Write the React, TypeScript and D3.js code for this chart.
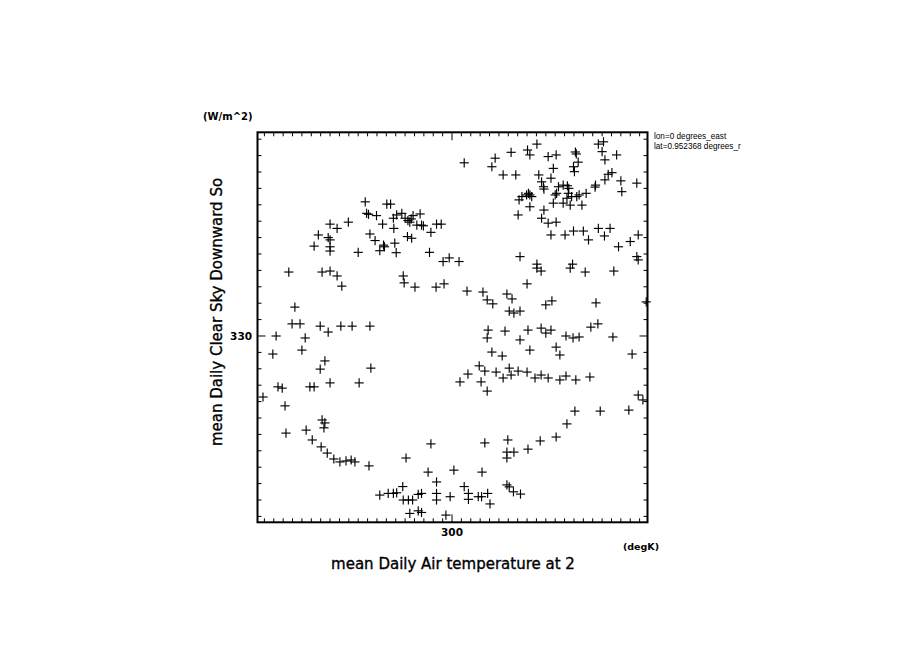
import React from "react";
import * as d3 from "d3";

// mean Daily Air temperature at 2m (degK)
const airTemp = [
  // upper right group
  300.26, 300.92, 300.85, 301.26, 301.61, 301.66, 301.81, 302.05, 302.22, 302.63, 302.65, 302.69, 302.59, 302.61,
  303.12, 303.23, 303.20, 303.26, 303.51, 301.09, 301.36, 301.85, 302.16, 302.11, 301.91, 301.95, 301.96, 302.27,
  302.37, 302.46, 302.49, 302.23, 302.20, 303.33, 303.41, 303.26, 303.06, 303.05, 303.60, 303.62, 303.94, 301.63,
  301.59, 301.66, 301.49, 301.43, 301.70, 302.48, 302.45, 302.55, 302.66, 302.71, 302.86, 302.16, 302.37, 302.52,
  302.77, 301.66, 301.96, 301.41, 301.91, 302.05, 302.22, 302.11, 302.41, 302.59, 302.80, 302.91, 303.12, 303.37,
  303.25, 303.55, 303.80, 303.97, 301.45, 301.81, 302.57, 303.94, 303.97, 299.67, 299.77, 299.81, 299.94, 300.15,
  // upper left group
  298.15, 298.61, 298.69, 298.18, 298.22, 298.39, 298.52, 298.75, 298.76, 298.82, 298.93, 299.00, 299.06, 299.13,
  299.10, 299.17, 299.32, 299.25, 299.35, 299.39, 299.55, 297.40, 297.55, 297.79, 297.15, 297.36, 297.40, 297.06,
  297.40, 297.40, 298.25, 298.36, 298.54, 298.56, 298.46, 298.78, 298.81, 299.05, 299.14, 298.00, 299.52,
  // left side
  296.52, 297.23, 297.40, 297.55, 297.65, 296.65, 296.59, 296.76, 297.19, 297.63, 297.87, 298.25, 297.36, 296.25,
  296.87, 296.80, 296.18, 297.29, 297.19, 297.40, 296.29, 296.38, 296.97, 297.06, 295.97, 296.44, 298.02, 298.27,
  298.96, 298.98, 299.21, 299.66, 299.83,
  // lower left arc
  296.46, 296.89, 297.23, 297.29, 297.27, 297.02, 297.21, 297.34, 297.48, 297.61, 297.74, 297.85, 297.93, 298.23,
  // bottom group
  298.46, 298.64, 298.75, 298.82, 298.95, 298.96, 299.07, 299.16, 299.28, 299.35, 299.10, 299.28, 299.35, 299.67,
  299.67, 299.67, 299.96, 299.87, 300.26, 300.35, 300.35, 300.56, 300.63, 300.76, 300.81, 301.17, 301.22, 301.31,
  301.46,
  // lower middle / right
  299.55, 300.04, 300.70, 301.19, 301.17, 301.17, 301.62, 301.88, 302.22, 302.45, 302.62, 303.16, 299.02, 299.49,
  300.64, 301.32,
  // right middle group
  300.32, 300.66, 300.75, 300.87, 301.17, 301.28, 301.60, 301.81, 301.90, 302.00, 302.13, 302.52, 303.07, 303.45,
  301.22, 301.32, 301.45, 300.77, 300.75, 301.13, 301.62, 301.45, 301.90, 302.00, 302.11, 302.22, 302.43, 302.58,
  302.71, 302.96, 303.11, 303.43, 303.84, 300.58, 300.70, 300.17, 300.34, 300.62, 300.75, 300.94, 301.09, 301.22,
  301.26, 301.41, 301.60, 301.77, 301.90, 302.05, 302.30, 302.43, 302.64, 302.94, 301.66, 303.97, 304.07, 303.77,
  304.14, 302.84, 301.07, 300.85, 302.30,
];

// mean Daily Clear Sky Downward Solar (W/m^2)
const clearSkySw = [
  335.28, 335.42, 335.16, 335.60, 335.67, 335.52, 335.85, 335.47, 335.52, 335.61, 335.55, 335.30, 335.16, 335.01,
  335.85, 335.92, 335.62, 335.37, 335.52, 334.91, 334.91, 334.91, 335.11, 334.81, 334.70, 334.55, 334.48, 334.55,
  334.60, 334.58, 334.50, 334.35, 334.30, 334.93, 334.98, 334.76, 334.60, 334.54, 334.73, 334.40, 334.66, 334.35,
  334.30, 334.30, 334.25, 334.15, 334.25, 334.35, 334.20, 334.25, 334.25, 334.30, 334.35, 334.05, 334.05, 333.99,
  333.99, 333.94, 333.84, 333.69, 333.59, 333.44, 333.47, 333.08, 333.08, 333.20, 333.20, 332.93, 333.28, 333.28,
  333.05, 332.72, 332.88, 333.08, 332.42, 332.19, 332.19, 332.42, 332.32, 333.41, 333.41, 332.27, 332.38, 332.27,
  334.09, 334.02, 334.02, 333.74, 333.71, 333.67, 333.41, 333.59, 333.28, 333.69, 333.74, 333.59, 333.52, 333.57,
  333.47, 333.67, 333.72, 333.38, 333.38, 333.36, 333.16, 333.41, 333.28, 333.47, 333.08, 333.00, 332.93, 332.74,
  332.72, 332.59, 333.11, 332.91, 332.77, 332.72, 332.60, 332.83, 332.54, 333.03, 332.98, 332.55, 332.55,
  331.95, 331.95, 331.98, 331.83, 331.52, 330.88, 330.37, 330.37, 330.30, 330.30, 330.30, 330.30, 330.12, 330.00,
  329.94, 329.57, 329.45, 329.24, 328.99, 328.57, 328.45, 328.41, 328.45, 328.45, 328.14, 327.87, 328.57, 329.02,
  331.83, 331.62, 331.49, 331.49, 331.59,
  327.04, 327.13, 327.44, 327.35, 327.20, 326.83, 326.62, 326.43, 326.25, 326.16, 326.19, 326.22, 326.16, 326.04,
  325.15, 325.20, 325.20, 325.22, 325.41, 325.00, 325.00, 325.00, 325.17, 325.20, 324.59, 324.67, 324.62, 325.20,
  325.00, 325.55, 325.10, 324.54, 325.41, 325.20, 325.02, 325.10, 325.10, 325.20, 324.88, 325.46, 325.40, 325.25,
  325.18,
  326.71, 325.91, 326.74, 326.83, 326.46, 326.28, 326.55, 326.80, 326.92, 327.32, 327.71, 327.71, 326.28, 325.85,
  325.85, 326.46,
  331.37, 331.34, 331.10, 330.98, 331.28, 331.13, 331.59, 332.07, 331.98, 330.95, 331.07, 332.07, 331.01, 331.98,
  330.76, 330.70, 330.76, 330.18, 329.94, 330.15, 330.18, 329.88, 330.24, 330.09, 330.18, 329.66, 330.00, 329.94,
  329.97, 330.27, 330.37, 329.97, 329.45, 329.09, 328.93, 328.60, 328.84, 328.60, 328.32, 328.90, 328.72, 329.02,
  328.81, 328.93, 328.90, 328.72, 328.81, 328.72, 328.66, 328.78, 328.66, 328.75, 329.57, 328.20, 328.05, 327.74,
  331.04, 331.95, 329.39, 329.51, 329.42,
];

const xTicksMinor = d3.range(0, 41).map((i) => 296 + i * 0.2);
const yTicksMinor = d3.range(0, 24).map((i) => 324.5 + i * 0.5);
const xMajor = [300];
const yMajor = [330];
const xTitle = "mean Daily Air temperature at 2";
const yTitle = "mean Daily Clear Sky Downward So";
const xUnits = "(degK)";
const yUnits = "(W/m^2)";
const lonLabel = "lon=0 degrees_east";
const latLabel = "lat=0.952368 degrees_r";

export default function App() {
  const left = 257.5, right = 647.5, top = 132.3, bottom = 522.3;
  const x = d3.scaleLinear().domain([295.853, 304.168]).range([left, right]);
  const y = d3.scaleLinear().domain([324.32, 336.21]).range([bottom, top]);
  const font = "DejaVu Sans, sans-serif";
  const arm = 4.6;
  return (
    <div style={{ position: "absolute", left: 0, top: 0 }}>
      <svg width={904} height={654} style={{ display: "block", background: "#fff" }}>
        <g stroke="#000" strokeWidth={1}>
          {xTicksMinor.map((t, i) => {
            const len = Math.abs(t - 300) < 1e-6 ? 8 : 4;
            return (
              <g key={"xt" + i}>
                <line x1={x(t)} x2={x(t)} y1={bottom} y2={bottom - len} />
                <line x1={x(t)} x2={x(t)} y1={top} y2={top + len} />
              </g>
            );
          })}
          {yTicksMinor.map((t, i) => {
            const len = Math.abs(t - 330) < 1e-6 ? 8 : 4;
            return (
              <g key={"yt" + i}>
                <line x1={left} x2={left + len} y1={y(t)} y2={y(t)} />
                <line x1={right} x2={right - len} y1={y(t)} y2={y(t)} />
              </g>
            );
          })}
        </g>
        <rect x={left} y={top} width={right - left} height={bottom - top} fill="none" stroke="#000" strokeWidth={2} />
        <g stroke="#000" strokeWidth={1.15}>
          {airTemp.map((v, i) => {
            const cx = x(v), cy = y(clearSkySw[i]);
            return (
              <g key={"p" + i}>
                <line x1={cx - arm} x2={cx + arm} y1={cy} y2={cy} />
                <line x1={cx} x2={cx} y1={cy - arm} y2={cy + arm} />
              </g>
            );
          })}
        </g>
        <g fontFamily={font} fill="#000">
          {xMajor.map((t) => (
            <text key={"xl" + t} x={x(t)} y={536} textAnchor="middle" fontSize={10.5} fontWeight="bold">{t}</text>
          ))}
          {yMajor.map((t) => (
            <text key={"yl" + t} x={252} y={y(t) + 4} textAnchor="end" fontSize={10.5} fontWeight="bold">{t}</text>
          ))}
          <text x={659} y={550} textAnchor="end" fontSize={9.5} fontWeight="bold">{xUnits}</text>
          <text x={453} y={569} textAnchor="middle" fontSize={15} stroke="#000" strokeWidth={0.35}>{xTitle}</text>
          <text transform="translate(222,312) rotate(-90)" textAnchor="middle" fontSize={15} stroke="#000" strokeWidth={0.35}>{yTitle}</text>
          <text x={203} y={120} fontSize={10} fontWeight="bold">{yUnits}</text>
          <text x={654} y={138.5} fontSize={8.2} fontFamily="Liberation Sans, sans-serif">{lonLabel}</text>
          <text x={654} y={148.5} fontSize={8.2} fontFamily="Liberation Sans, sans-serif">{latLabel}</text>
        </g>
      </svg>
    </div>
  );
}
